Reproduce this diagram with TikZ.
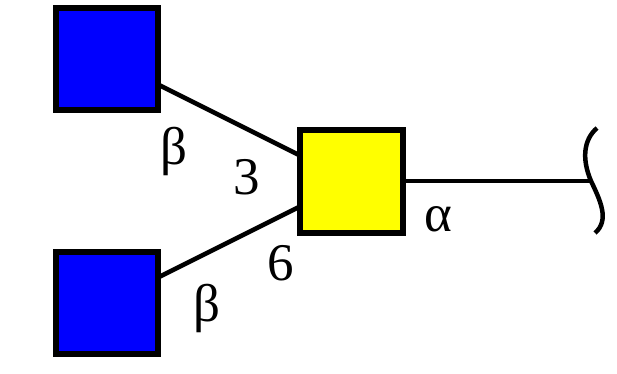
\documentclass[tikz,border=0pt]{standalone}
\usepackage{fontspec}
\setmainfont{Liberation Serif}
\usetikzlibrary{positioning, backgrounds}
\definecolor{gblue}{HTML}{0000FF}
\definecolor{gyellow}{HTML}{FFFF00}
\tikzset{
  every picture/.style={x=1pt, y=1pt},
  sugar/.style={draw=black, fill=#1, line width=6pt, minimum size=102pt, inner sep=0pt},
  link/.style={draw=black, line width=4.5pt},
  lbl/.style={font=\fontsize{53}{58}\selectfont, inner sep=0pt},
}

\begin{document}
\begin{tikzpicture}
  \useasboundingbox (0,0) rectangle (617,-373);
  % residues
  \node[sugar=gblue] (glcA) at (107,-59) {};
  \node[sugar=gblue] (glcB) at (107,-303) {};
  \node[sugar=gyellow, minimum size=103pt] (gal) at (351,-181) {};
  \coordinate (red) at (591,-181);
  % linkages, behind the squares
  \begin{scope}[on background layer]
    \draw[link] (glcA.center) -- (gal.center);
    \draw[link] (glcB.center) -- (gal.center);
    \draw[link] (gal.center) -- (red);
  \end{scope}
  % reducing end
  \draw[line width=4.5pt] (597,-128) .. controls (583,-140) and (582,-160) .. (red)
    .. controls (600,-200) and (610,-220) .. (595,-233);
  % labels
  \node[lbl] (b1) at (174,-151) {β};
  \node[lbl] (p3) at (247,-177) {3};
  \node[lbl] (b2) at (207,-308) {β};
  \node[lbl] (p6) at (281,-263) {6};
  \node[lbl] (a1) at (438,-219) {α};
\end{tikzpicture}
\end{document}
